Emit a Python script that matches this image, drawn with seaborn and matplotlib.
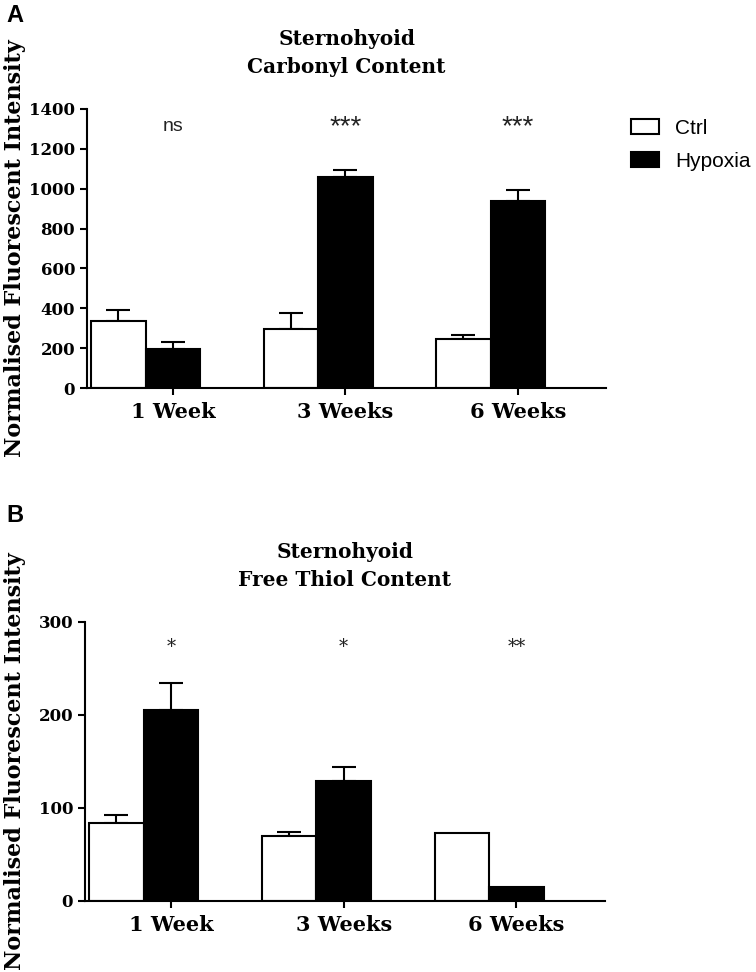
import pandas as pd
import matplotlib
matplotlib.use("Agg")
import matplotlib.pyplot as plt
import seaborn as sns

# values
weeks = ["1 Week", "3 Weeks", "6 Weeks"]
groups = ["Ctrl", "Hypoxia"]

carbonyl_ctrl = [336, 294, 244]
carbonyl_hyp = [197, 1057, 938]
carbonyl_ctrl_sem = [55, 84, 22]
carbonyl_hyp_sem = [35, 35, 54]
carbonyl_sig = ["ns", "***", "***"]

thiol_ctrl = [83, 69, 73]
thiol_hyp = [205, 129, 15]
thiol_ctrl_sem = [9, 5, 0]
thiol_hyp_sem = [29, 15, 0]
thiol_sig = ["*", "*", "**"]

SERIF = "DejaVu Serif"
SANS = "Liberation Sans"

sns.set_style("ticks")
plt.rcParams.update({
    "text.color": "black",
    "axes.labelcolor": "black",
    "axes.edgecolor": "black",
    "xtick.color": "black",
    "ytick.color": "black",
})


def make_df(ctrl, hyp):
    return pd.DataFrame({
        "week": weeks * 2,
        "group": ["Ctrl"] * 3 + ["Hypoxia"] * 3,
        "value": ctrl + hyp,
    })


def draw_panel(ax, df, sems, ymax, step, title, sig, sig_y, sig_font):
    sns.barplot(data=df, x="week", y="value", hue="group", hue_order=groups,
                palette={"Ctrl": "white", "Hypoxia": "black"}, saturation=1,
                edgecolor="black", linewidth=1.5, width=0.632, errorbar=None,
                legend=False, ax=ax)

    # upward-only SEM bars on top of each bar
    for cont, sem in zip(ax.containers, sems):
        for patch, s in zip(cont.patches, sem):
            if s <= 0:
                continue
            xc = patch.get_x() + patch.get_width() / 2
            ax.errorbar(xc, patch.get_height(), yerr=[[0], [s]], fmt="none",
                        ecolor="black", elinewidth=1.5, capsize=8.3,
                        capthick=1.5, zorder=0.5)

    # category ticks sit under the hypoxia bars
    centers = [p.get_x() + p.get_width() / 2 for p in ax.containers[1].patches]
    ax.set_xticks(centers)
    ax.set_xticklabels(weeks, fontsize=15, fontweight="bold", family=SERIF)
    ax.set_xlim(-0.34, 2.67)

    ax.set_ylim(0, ymax)
    ax.set_yticks(range(0, ymax + 1, step))
    for lab in ax.get_yticklabels():
        lab.set_fontsize(12)
        lab.set_fontweight("bold")
        lab.set_family(SERIF)

    ax.set_xlabel("")
    ax.set_ylabel("Normalised Fluorescent Intensity", fontsize=16,
                  fontweight="bold", family=SERIF)
    ax.set_title(title, fontsize=14.5, fontweight="bold", family=SERIF,
                 linespacing=1.5, pad=26)

    sns.despine(ax=ax)
    for sp in ["left", "bottom"]:
        ax.spines[sp].set_linewidth(1.5)
    ax.tick_params(axis="both", width=1.5, length=5)
    ax.tick_params(axis="y", pad=3.5)
    ax.tick_params(axis="x", pad=5)

    for xc, s in zip(centers, sig):
        size = 14 if s == "ns" else sig_font[1]
        ax.text(xc, sig_y, s, ha="center", va="center", fontsize=size,
                family=sig_font[0], color="#222222")


fig = plt.figure(figsize=(7.56, 9.72), dpi=100)
ax_a = fig.add_axes([0.115, 0.6008, 0.687, 0.2872])
ax_b = fig.add_axes([0.1124, 0.0734, 0.6876, 0.2870])

draw_panel(ax_a, make_df(carbonyl_ctrl, carbonyl_hyp),
           [carbonyl_ctrl_sem, carbonyl_hyp_sem], 1400, 200,
           "Sternohyoid\nCarbonyl Content", carbonyl_sig, 1310, (SANS, 20))
draw_panel(ax_b, make_df(thiol_ctrl, thiol_hyp),
           [thiol_ctrl_sem, thiol_hyp_sem], 300, 100,
           "Sternohyoid\nFree Thiol Content", thiol_sig, 273, (SERIF, 13))

ax_a.yaxis.set_label_coords(-0.117, 0.5)
ax_b.yaxis.set_label_coords(-0.113, 0.5)

# legend for panel A, placed outside the axes on the right
handles = [ax_a.containers[0].patches[0], ax_a.containers[1].patches[0]]
fig.legend(handles, groups, loc="upper left", bbox_to_anchor=(0.8347, 0.878),
           frameon=False, borderpad=0, borderaxespad=0, handlelength=1.35,
           handleheight=0.72, handletextpad=0.77, labelspacing=0.68,
           prop={"family": SANS, "size": 15})

fig.text(0.008, 0.996, "A", ha="left", va="top", fontsize=17,
         fontweight="bold", family=SANS)
fig.text(0.008, 0.4815, "B", ha="left", va="top", fontsize=17,
         fontweight="bold", family=SANS)

fig.savefig("out.png", dpi=100, facecolor="white")
